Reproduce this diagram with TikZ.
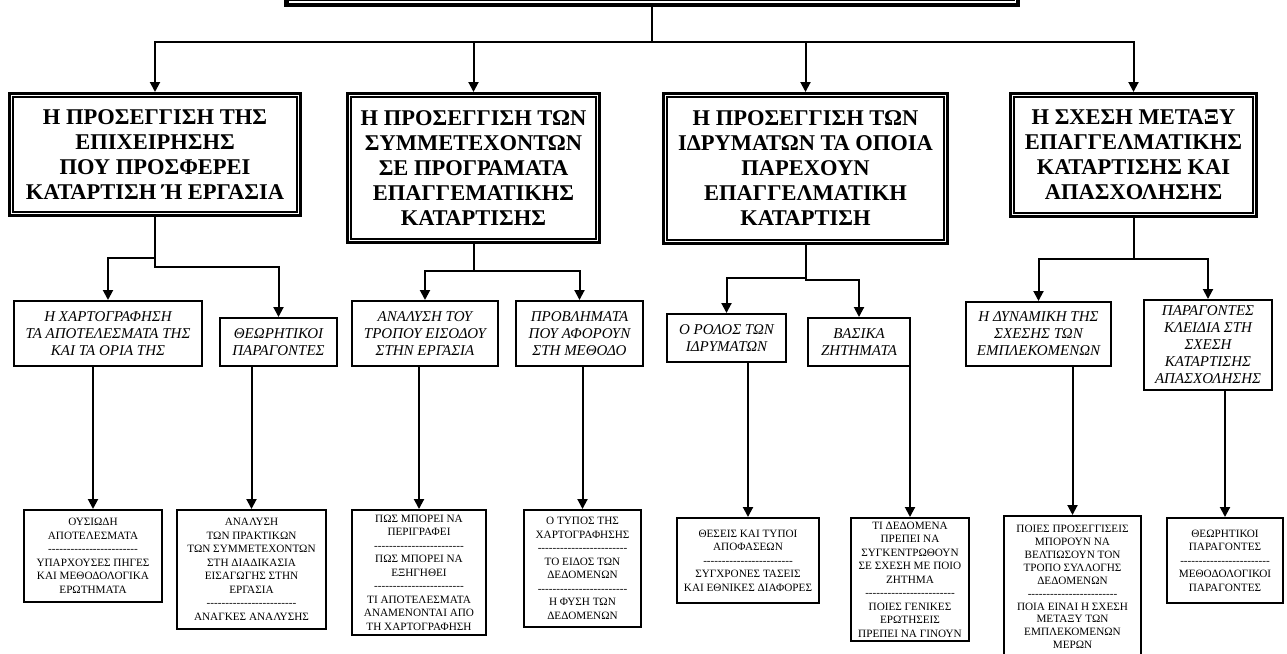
\documentclass[tikz,border=0pt]{standalone}
\usepackage{fontspec}
\setmainfont{Liberation Serif}
\usetikzlibrary{arrows.meta}

% a row of plain hyphens used as a separator inside the note boxes
\newcommand{\dashrow}{\foreach\k in {1,...,24}{-\kern0pt}}

\tikzset{
  conn/.style={line width=2pt},
  arr/.style={conn,-{Triangle[width=10pt,length=10pt]}},
  headbox/.style={draw, line width=1.2pt, inner sep=0pt, outer sep=5pt, align=center,
    font=\fontsize{22.5}{25}\selectfont\bfseries},
  headframe/.style={draw, line width=3pt},
  topicbox/.style={draw, line width=2pt, inner sep=0pt, align=center,
    font=\fontsize{15}{17}\selectfont\itshape},
  notebox/.style={draw, line width=2pt, inner sep=0pt, align=center,
    font=\fontsize{11.2}{13.5}\selectfont},
}

\begin{document}
\begin{tikzpicture}[x=1pt,y=-1pt]
\useasboundingbox (0,0) rectangle (1287,653);
\fill[white] (0,0) rectangle (1287,653);
\clip (0,0) rectangle (1287,653);

% root box (only its lower edge lies inside the sheet)
\node[draw, line width=4.5pt, minimum width=731.5pt, minimum height=59.5pt, inner sep=0pt] (top) at (652,-25) {};
\draw[line width=1pt] ([shift={(5.5,5)}]top.north west) rectangle ([shift={(-5.5,-6.5)}]top.south east);

% level 1: the four approaches
\node[headbox, minimum width=284pt, minimum height=115pt] (b1) at (155,154.5)
  {Η ΠΡΟΣΕΓΓΙΣΗ ΤΗΣ\\ΕΠΙΧΕΙΡΗΣΗΣ\\ΠΟΥ ΠΡΟΣΦΕΡΕΙ\\ΚΑΤΑΡΤΙΣΗ Ή ΕΡΓΑΣΙΑ};
\node[headbox, minimum width=245pt, minimum height=142pt] (b2) at (473.5,168)
  {Η ΠΡΟΣΕΓΓΙΣΗ ΤΩΝ\\ΣΥΜΜΕΤΕΧΟΝΤΩΝ\\ΣΕ ΠΡΟΓΡΑΜΑΤΑ\\ΕΠΑΓΓΕΜΑΤΙΚΗΣ\\ΚΑΤΑΡΤΙΣΗΣ};
\node[headbox, minimum width=277pt, minimum height=143pt] (b3) at (805.5,168.5)
  {Η ΠΡΟΣΕΓΓΙΣΗ ΤΩΝ\\ΙΔΡΥΜΑΤΩΝ ΤΑ ΟΠΟΙΑ\\ΠΑΡΕΧΟΥΝ\\ΕΠΑΓΓΕΛΜΑΤΙΚΗ\\ΚΑΤΑΡΤΙΣΗ};
\node[headbox, minimum width=239pt, minimum height=116pt] (b4) at (1133.5,155)
  {Η ΣΧΕΣΗ ΜΕΤΑΞΥ\\ΕΠΑΓΓΕΛΜΑΤΙΚΗΣ\\ΚΑΤΑΡΤΙΣΗΣ ΚΑΙ\\ΑΠΑΣΧΟΛΗΣΗΣ};
\foreach \n in {b1,b2,b3,b4}
  \draw[headframe] ([shift={(1.5,1.5)}]\n.north west) rectangle ([shift={(-1.5,-1.5)}]\n.south east);

% level 2: topics
\node[topicbox, minimum width=188pt, minimum height=65pt] (l1a) at (108,333.5)
  {Η ΧΑΡΤΟΓΡΑΦΗΣΗ\\ΤΑ ΑΠΟΤΕΛΕΣΜΑΤΑ ΤΗΣ\\ΚΑΙ ΤΑ ΟΡΙΑ ΤΗΣ};
\node[topicbox, minimum width=117pt, minimum height=48pt] (l1b) at (278.5,342)
  {ΘΕΩΡΗΤΙΚΟΙ\\ΠΑΡΑΓΟΝΤΕΣ};
\node[topicbox, minimum width=146pt, minimum height=65pt] (l2a) at (425,333.5)
  {ΑΝΑΛΥΣΗ ΤΟΥ\\ΤΡΟΠΟΥ ΕΙΣΟΔΟΥ\\ΣΤΗΝ ΕΡΓΑΣΙΑ};
\node[topicbox, minimum width=127pt, minimum height=65pt] (l2b) at (579.5,333.5)
  {ΠΡΟΒΛΗΜΑΤΑ\\ΠΟΥ ΑΦΟΡΟΥΝ\\ΣΤΗ ΜΕΘΟΔΟ};
\node[topicbox, minimum width=119pt, minimum height=48pt] (l3a) at (726.5,338)
  {Ο ΡΟΛΟΣ ΤΩΝ\\ΙΔΡΥΜΑΤΩΝ};
\node[topicbox, minimum width=102pt, minimum height=48pt] (l3b) at (859,342)
  {ΒΑΣΙΚΑ\\ΖΗΤΗΜΑΤΑ};
\node[topicbox, minimum width=145pt, minimum height=64pt] (l4a) at (1038.5,334)
  {Η ΔΥΝΑΜΙΚΗ ΤΗΣ\\ΣΧΕΣΗΣ ΤΩΝ\\ΕΜΠΛΕΚΟΜΕΝΩΝ};
\node[topicbox, minimum width=128pt, minimum height=90pt] (l4b) at (1208,345)
  {ΠΑΡΑΓΟΝΤΕΣ\\ΚΛΕΙΔΙΑ ΣΤΗ\\ΣΧΕΣΗ\\ΚΑΤΑΡΤΙΣΗΣ\\ΑΠΑΣΧΟΛΗΣΗΣ};

% level 3: notes
\node[notebox, minimum width=138pt, minimum height=92pt] (n1c) at (93,556)
  {ΟΥΣΙΩΔΗ\\ΑΠΟΤΕΛΕΣΜΑΤΑ\\\dashrow\\ΥΠΑΡΧΟΥΣΕΣ ΠΗΓΕΣ\\ΚΑΙ ΜΕΘΟΔΟΛΟΓΙΚΑ\\ΕΡΩΤΗΜΑΤΑ};
\node[notebox, minimum width=149pt, minimum height=119pt] (n1d) at (251.5,569.5)
  {ΑΝΑΛΥΣΗ\\ΤΩΝ ΠΡΑΚΤΙΚΩΝ\\ΤΩΝ ΣΥΜΜΕΤΕΧΟΝΤΩΝ\\ΣΤΗ ΔΙΑΔΙΚΑΣΙΑ\\ΕΙΣΑΓΩΓΗΣ ΣΤΗΝ\\ΕΡΓΑΣΙΑ\\\dashrow\\ΑΝΑΓΚΕΣ ΑΝΑΛΥΣΗΣ};
\node[notebox, minimum width=134pt, minimum height=125pt] (n2c) at (419,572.5)
  {ΠΩΣ ΜΠΟΡΕΙ ΝΑ\\ΠΕΡΙΓΡΑΦΕΙ\\\dashrow\\ΠΩΣ ΜΠΟΡΕΙ ΝΑ\\ΕΞΗΓΗΘΕΙ\\\dashrow\\ΤΙ ΑΠΟΤΕΛΕΣΜΑΤΑ\\ΑΝΑΜΕΝΟΝΤΑΙ ΑΠΟ\\ΤΗ ΧΑΡΤΟΓΡΑΦΗΣΗ};
\node[notebox, minimum width=117pt, minimum height=117pt] (n2d) at (582.5,568.5)
  {Ο ΤΥΠΟΣ ΤΗΣ\\ΧΑΡΤΟΓΡΑΦΗΣΗΣ\\\dashrow\\ΤΟ ΕΙΔΟΣ ΤΩΝ\\ΔΕΔΟΜΕΝΩΝ\\\dashrow\\Η ΦΥΣΗ ΤΩΝ\\ΔΕΔΟΜΕΝΩΝ};
\node[notebox, minimum width=142pt, minimum height=85pt] (n3c) at (748,560.5)
  {ΘΕΣΕΙΣ ΚΑΙ ΤΥΠΟΙ\\ΑΠΟΦΑΣΕΩΝ\\\dashrow\\ΣΥΓΧΡΟΝΕΣ ΤΑΣΕΙΣ\\ΚΑΙ ΕΘΝΙΚΕΣ ΔΙΑΦΟΡΕΣ};
\node[notebox, minimum width=118pt, minimum height=123pt] (n3d) at (910,579.5)
  {ΤΙ ΔΕΔΟΜΕΝΑ\\ΠΡΕΠΕΙ ΝΑ\\ΣΥΓΚΕΝΤΡΩΘΟΥΝ\\ΣΕ ΣΧΕΣΗ ΜΕ ΠΟΙΟ\\ΖΗΤΗΜΑ\\\dashrow\\ΠΟΙΕΣ ΓΕΝΙΚΕΣ\\ΕΡΩΤΗΣΕΙΣ\\ΠΡΕΠΕΙ ΝΑ ΓΙΝΟΥΝ};
\node[notebox, minimum width=137pt, minimum height=142pt, font=\fontsize{11.2}{12.9}\selectfont] (n4c) at (1072.5,587)
  {ΠΟΙΕΣ ΠΡΟΣΕΓΓΙΣΕΙΣ\\ΜΠΟΡΟΥΝ ΝΑ\\ΒΕΛΤΙΩΣΟΥΝ ΤΟΝ\\ΤΡΟΠΟ ΣΥΛΛΟΓΗΣ\\ΔΕΔΟΜΕΝΩΝ\\\dashrow\\ΠΟΙΑ ΕΙΝΑΙ Η ΣΧΕΣΗ\\ΜΕΤΑΞΥ ΤΩΝ\\ΕΜΠΛΕΚΟΜΕΝΩΝ\\ΜΕΡΩΝ};
\node[notebox, minimum width=116pt, minimum height=85pt] (n4d) at (1225,560.5)
  {ΘΕΩΡΗΤΙΚΟΙ\\ΠΑΡΑΓΟΝΤΕΣ\\\dashrow\\ΜΕΘΟΔΟΛΟΓΙΚΟΙ\\ΠΑΡΑΓΟΝΤΕΣ};

% root to level 1
\draw[conn] (top.south) -- ++(0,35) coordinate (hub);
\foreach \n in {b1,b2,b3,b4}
  \draw[arr] (hub) -| (\n.north);

% level 1 to level 2
\draw[arr] (b1.south) -- ++(0,41) -| (l1a.north);
\draw[arr] (b1.south) -- ++(0,50) -| (l1b.north);
\draw[arr] (b2.south) -- ++(0,27) -| (l2a.north);
\draw[arr] (b2.south) -- ++(0,27) -| (l2b.north);
\draw[arr] (b3.south) -- ++(0,33) -| (l3a.north);
\draw[arr] (b3.south) -- ++(0,35) -| (l3b.north);
\draw[arr] (b4.south) -- ++(0,41) -| (l4a.north);
\draw[arr] (b4.south) -- ++(0,41) -| (l4b.north);

% level 2 to level 3
\draw[arr] (l1a.south -| n1c.north) -- (n1c.north);
\draw[arr] (l1b.south -| n1d.north) -- (n1d.north);
\draw[arr] (l2a.south -| n2c.north) -- (n2c.north);
\draw[arr] (l2b.south -| n2d.north) -- (n2d.north);
\draw[arr] (l3a.south -| n3c.north) -- (n3c.north);
\draw[arr] (l3b.south -| n3d.north) -- (n3d.north);
\draw[arr] (l4a.south -| n4c.north) -- (n4c.north);
\draw[arr] (l4b.south -| n4d.north) -- (n4d.north);
\end{tikzpicture}
\end{document}
